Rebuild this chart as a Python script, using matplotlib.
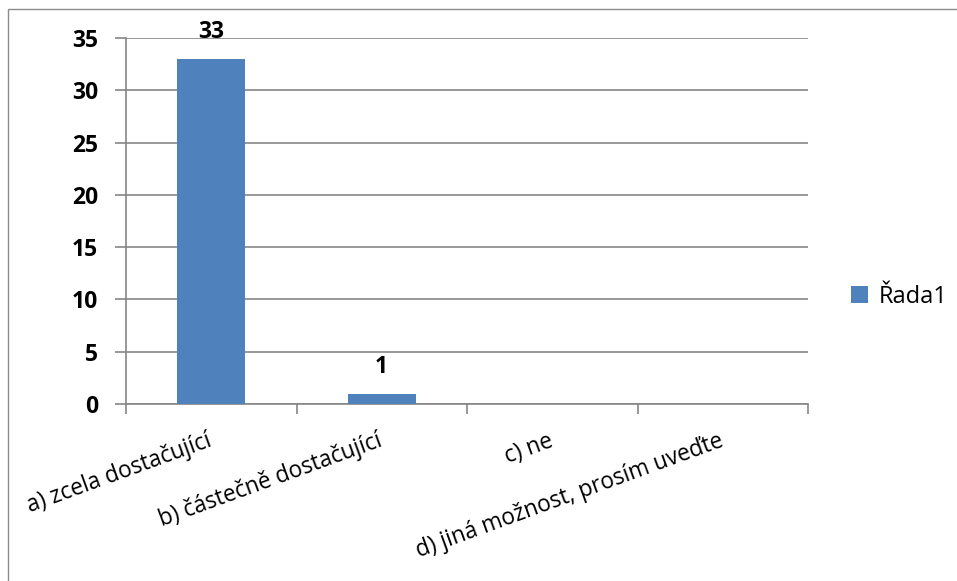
import matplotlib
matplotlib.use("Agg")
import matplotlib.pyplot as plt
from matplotlib.patches import Rectangle

categories = ["a) zcela dostačující", "b) částečně dostačující", "c) ne",
              "d) jiná možnost, prosím uveďte"]
values = [33, 1, None, None]
series_name = "Řada1"
y_ticks = [0, 5, 10, 15, 20, 25, 30, 35]

W, H = 957, 581
DPI = 100
BAR_COLOR = "#4F81BD"
GRID_COLOR = "#868686"
FONT = "Open Sans"

fig = plt.figure(figsize=(W / DPI, H / DPI), dpi=DPI)
fig.patch.set_facecolor("white")

# outer chart frame
fig.add_artist(Rectangle((8 / W, -0.1), 1.2, (H - 9) / H + 0.1,
                         transform=fig.transFigure, fill=False,
                         edgecolor="#8c8c8c", linewidth=1.0))

left, right, top, bottom = 126, 808, 38, 404
ax = fig.add_axes([left / W, (H - bottom) / H, (right - left) / W, (bottom - top) / H])

x = list(range(len(categories)))
heights = [v if v is not None else 0 for v in values]
bars = ax.bar(x, heights, width=0.4, color=BAR_COLOR, zorder=3, label=series_name)
for b, v in zip(bars, values):
    if v is None:
        b.set_visible(False)

ax.set_xlim(-0.5, len(categories) - 0.5)
ax.set_ylim(0, 35)
ax.set_yticks(y_ticks)
ax.set_yticklabels([str(t) for t in y_ticks], fontfamily=FONT, fontsize=16.5,
                   fontweight="bold")
ax.yaxis.grid(True, color=GRID_COLOR, linewidth=1.2, zorder=0)
ax.tick_params(axis="y", length=8, width=1.2, color=GRID_COLOR, pad=12)

ax.set_xticks([i - 0.5 for i in range(len(categories) + 1)])
ax.set_xticklabels([])
ax.tick_params(axis="x", length=7, width=1.2, color=GRID_COLOR, direction="out")

for s in ["top", "right"]:
    ax.spines[s].set_visible(False)
for s in ["left", "bottom"]:
    ax.spines[s].set_color(GRID_COLOR)
    ax.spines[s].set_linewidth(1.2)

# category labels, rotated
for i, c in enumerate(categories):
    ax.annotate(c, xy=(i, 0), xycoords=("data", "axes fraction"),
                xytext=(-3, -18), textcoords="offset points",
                rotation=20, rotation_mode="anchor", ha="right", va="top",
                fontfamily=FONT, fontsize=16.3, color="black")

# value labels above bars
for i, v in enumerate(values):
    if v is not None:
        ax.annotate(str(v), xy=(i, v), xytext=(0, 15), textcoords="offset points",
                    ha="center", va="baseline", fontfamily=FONT, fontsize=16.5,
                    fontweight="bold")

fig.legend(handles=[bars], labels=[series_name], loc="center left",
           bbox_to_anchor=(830 / W, (H - 297) / H), frameon=False,
           prop={"family": FONT, "size": 17}, handlelength=0.7,
           handleheight=0.7, handletextpad=0.45)

fig.savefig("out.png", dpi=DPI)
